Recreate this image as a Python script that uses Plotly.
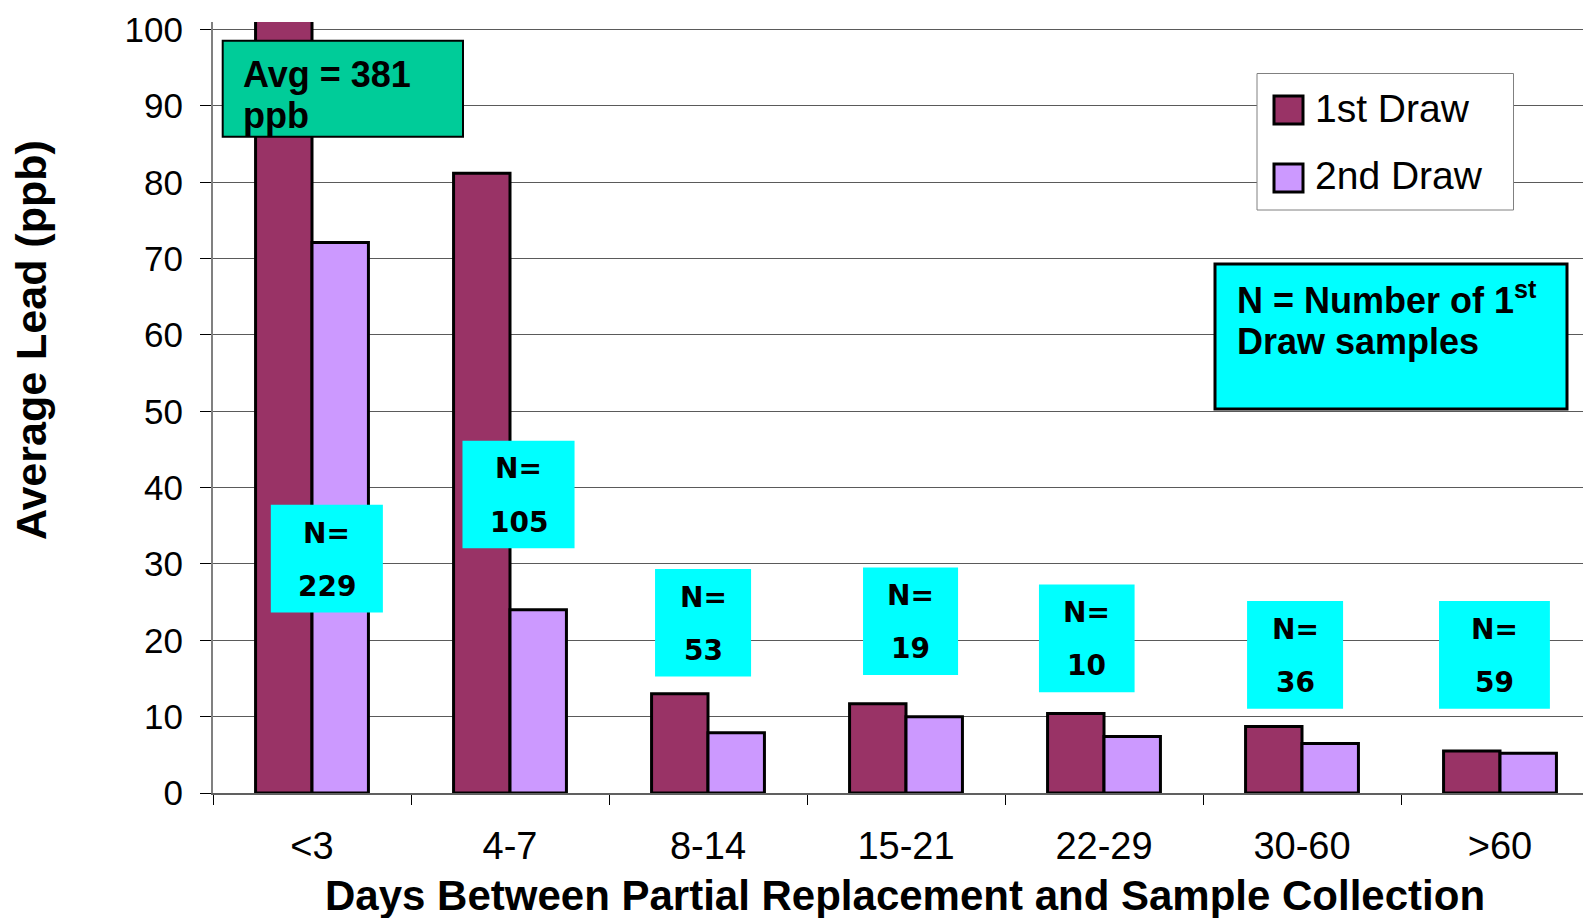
import plotly.graph_objects as go

# ---------------- data ----------------
categories = ["<3", "4-7", "8-14", "15-21", "22-29", "30-60", ">60"]
first_draw = [381, 81.2, 13.0, 11.7, 10.4, 8.7, 5.5]
second_draw = [72.1, 24.0, 7.9, 10.0, 7.4, 6.5, 5.2]
n_samples = [229, 105, 53, 19, 10, 36, 59]
series_names = ["1st Draw", "2nd Draw"]
y_tick_vals = [0, 10, 20, 30, 40, 50, 60, 70, 80, 90, 100]

# N-box placement (category-index centre, data-unit centre, width in category units)
n_box_x = [0.075, 1.043, 1.975, 3.023, 3.913, 4.965, 5.972]
n_box_y = [30.7, 39.1, 22.3, 22.5, 20.25, 18.1, 18.1]
n_box_w = [0.566, 0.566, 0.485, 0.48, 0.483, 0.485, 0.56]
n_box_h = 14.1

# ---------------- style ----------------
C1 = "#993366"
C2 = "#CC99FF"
W, H = 1583, 918
L, R, T, B = 213, 1583, 22, 793
FONT = "Liberation Sans, Arial, sans-serif"
NFONT = "DejaVu Sans, Verdana, sans-serif"


def px(x):
    return (x - L) / (R - L)


def py(y):
    return (B - y) / (B - T)


fig = go.Figure()
fig.add_trace(go.Bar(x=categories, y=first_draw, name=series_names[0],
                     marker=dict(color=C1, line=dict(color="black", width=3)),
                     showlegend=False))
fig.add_trace(go.Bar(x=categories, y=second_draw, name=series_names[1],
                     marker=dict(color=C2, line=dict(color="black", width=3)),
                     showlegend=False))

shapes = []
annotations = []

# N boxes
for n, cx, cy, w in zip(n_samples, n_box_x, n_box_y, n_box_w):
    shapes.append(dict(type="rect", xref="x", yref="y",
                       x0=cx - w / 2, x1=cx + w / 2,
                       y0=cy - n_box_h / 2, y1=cy + n_box_h / 2,
                       fillcolor="#00FFFF", line=dict(width=0), layer="above"))
    annotations.append(dict(xref="x", yref="y", x=cx, y=cy + 3.35, text="<b>N=</b>",
                            showarrow=False, xanchor="center", yanchor="middle",
                            font=dict(family=NFONT, size=28, color="black")))
    annotations.append(dict(xref="x", yref="y", x=cx, y=cy - 3.6, text=f"<b>{n}</b>",
                            showarrow=False, xanchor="center", yanchor="middle",
                            font=dict(family=NFONT, size=28, color="black")))

# Avg box
shapes.append(dict(type="rect", xref="paper", yref="paper",
                   x0=px(222.7), x1=px(463), y0=py(136.7), y1=py(40.7),
                   fillcolor="#00CC99", line=dict(color="black", width=2), layer="above"))
annotations.append(dict(xref="paper", yref="paper", x=px(241), y=py(75),
                        text="<b>Avg = 381</b>", showarrow=False,
                        xanchor="left", yanchor="middle",
                        font=dict(family=FONT, size=36, color="black")))
annotations.append(dict(xref="paper", yref="paper", x=px(241), y=py(115),
                        text="<b>ppb</b>", showarrow=False,
                        xanchor="left", yanchor="middle",
                        font=dict(family=FONT, size=36, color="black")))

# N definition box
shapes.append(dict(type="rect", xref="paper", yref="paper",
                   x0=px(1215), x1=px(1567), y0=py(409), y1=py(264),
                   fillcolor="#00FFFF", line=dict(color="black", width=3), layer="above"))
annotations.append(dict(xref="paper", yref="paper", x=px(1235), y=py(298),
                        text="<b>N = Number of 1<sup>st</sup></b>", showarrow=False,
                        xanchor="left", yanchor="middle",
                        font=dict(family=FONT, size=36, color="black")))
annotations.append(dict(xref="paper", yref="paper", x=px(1235), y=py(341),
                        text="<b>Draw samples</b>", showarrow=False,
                        xanchor="left", yanchor="middle",
                        font=dict(family=FONT, size=36, color="black")))

# Legend (manual)
shapes.append(dict(type="rect", xref="paper", yref="paper",
                   x0=px(1257), x1=px(1513.5), y0=py(210), y1=py(73.5),
                   fillcolor="white", line=dict(color="#808080", width=1), layer="above"))
for i, (name, col) in enumerate(zip(series_names, [C1, C2])):
    top = 96 + i * 68
    shapes.append(dict(type="rect", xref="paper", yref="paper",
                       x0=px(1274), x1=px(1303), y0=py(top + 28), y1=py(top),
                       fillcolor=col, line=dict(color="black", width=3), layer="above"))
    annotations.append(dict(xref="paper", yref="paper", x=px(1313), y=py(top + 12),
                            text=name, showarrow=False, xanchor="left", yanchor="middle",
                            font=dict(family=FONT, size=39, color="black")))

# Axis titles
annotations.append(dict(xref="paper", yref="paper", x=px(905), y=py(895),
                        text="<b>Days Between Partial Replacement and Sample Collection</b>",
                        showarrow=False, xanchor="center", yanchor="middle",
                        font=dict(family=FONT, size=42, color="black")))
annotations.append(dict(xref="paper", yref="paper", x=px(31), y=py(340),
                        text="<b>Average Lead (ppb)</b>", textangle=-90,
                        showarrow=False, xanchor="center", yanchor="middle",
                        font=dict(family=FONT, size=43, color="black")))

fig.update_layout(
    width=W, height=H,
    margin=dict(l=L, r=W - R, t=T, b=H - B, pad=0),
    paper_bgcolor="white", plot_bgcolor="white",
    barmode="group", bargap=0.43, bargroupgap=0,
    shapes=shapes, annotations=annotations,
    showlegend=False,
    font=dict(family=FONT, color="black"),
)
fig.update_xaxes(
    type="category", range=[-0.5, 6.5 - 16 / 198], tickson="boundaries",
    ticks="outside", ticklen=10, tickwidth=1, tickcolor="black",
    showline=True, linecolor="#606060", linewidth=2,
    showgrid=False, tickfont=dict(family=FONT, size=38, color="black"),
    ticklabelstandoff=18,
)
fig.update_yaxes(
    range=[0, 101], tickvals=y_tick_vals,
    ticks="outside", ticklen=11, tickwidth=1, tickcolor="black",
    showline=True, linecolor="#808080", linewidth=2,
    showgrid=True, gridcolor="#5a5a5a", gridwidth=1, zeroline=False,
    tickfont=dict(family=FONT, size=35, color="black"),
    ticklabelstandoff=10,
)

fig.write_html("out.html", config={"displayModeBar": False},
               post_script="document.body.style.margin='0';")
